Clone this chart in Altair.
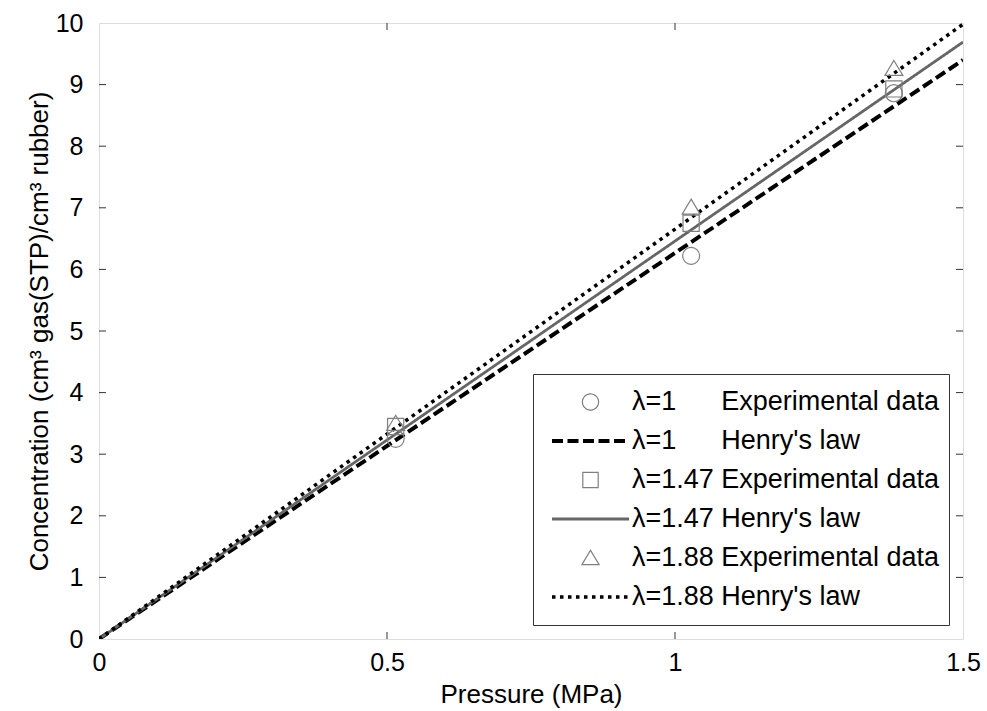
import altair as alt
import pandas as pd

FONT = "Liberation Sans"
NB = "\u00a0"

# ---- data ----
series = [
    "λ=1" + NB * 6 + "Experimental" + NB + "data",
    "λ=1" + NB * 6 + "Henry's" + NB + "law",
    "λ=1.47" + NB + "Experimental" + NB + "data",
    "λ=1.47" + NB + "Henry's" + NB + "law",
    "λ=1.88" + NB + "Experimental" + NB + "data",
    "λ=1.88" + NB + "Henry's" + NB + "law",
]

exp_pressure = [0.515, 1.028, 1.38]
exp_l100 = [3.25, 6.22, 8.86]
exp_l147 = [3.45, 6.75, 8.93]
exp_l188 = [3.50, 7.01, 9.26]

henry_pressure = [0.0, 1.5]
henry_l100 = [0.0, 9.40]
henry_l147 = [0.0, 9.69]
henry_l188 = [0.0, 9.98]

x_ticks = [0, 0.5, 1, 1.5]
y_ticks = [0, 1, 2, 3, 4, 5, 6, 7, 8, 9, 10]

# ---- tables ----
exp_df = pd.DataFrame({
    "pressure": exp_pressure * 3,
    "conc": exp_l100 + exp_l147 + exp_l188,
    "series": [series[0]] * 3 + [series[2]] * 3 + [series[4]] * 3,
})
henry_df = pd.DataFrame({
    "pressure": henry_pressure * 3,
    "conc": henry_l100 + henry_l147 + henry_l188,
    "series": [series[1]] * 2 + [series[3]] * 2 + [series[5]] * 2,
})
xt_df = pd.DataFrame({"pressure": x_ticks[1:-1]})
yt_df = pd.DataFrame({"conc": y_ticks[1:-1]})

W, H = 864, 616

# ---- styles ----
CIRCLE = "M0.21,0A0.21,0.21,0,1,1,-0.21,0A0.21,0.21,0,1,1,0.21,0Z"
SQUARE = "M-0.2,-0.2L0.2,-0.2L0.2,0.2L-0.2,0.2Z"
TRIANGLE = "M0,-0.2L0.222,0.17L-0.222,0.17Z"
LINE = "M-1,0L1,0"

shape_scale = alt.Scale(domain=series, range=[CIRCLE, LINE, SQUARE, LINE, TRIANGLE, LINE])
stroke_scale = alt.Scale(domain=series, range=["#7f7f7f", "#000000", "#7f7f7f", "#666666", "#7f7f7f", "#000000"])
dash_scale = alt.Scale(domain=series, range=[[1, 0], [11, 4.5], [1, 0], [1, 0], [1, 0], [3.5, 4.5]])
width_scale = alt.Scale(type="ordinal", domain=series, range=[1.2, 4, 1.2, 2.8, 1.2, 3.5])

legend = alt.Legend(
    title=None,
    orient="none",
    legendX=434,
    legendY=351,
    strokeColor="#333333",
    fillColor="white",
    padding=10,
    cornerRadius=0,
    labelFont=FONT,
    labelFontSize=27,
    labelColor="black",
    labelLimit=600,
    labelOffset=1,
    symbolSize=5929,
    symbolFillColor="transparent",
    symbolOpacity=1,
    clipHeight=36,
    rowPadding=3,
    symbolOffset=7,
)

x_scale = alt.Scale(domain=[0, 1.5], nice=False, zero=False)
y_scale = alt.Scale(domain=[0, 10], nice=False, zero=False)

x_axis = alt.Axis(
    values=x_ticks, format="~g", title="Pressure (MPa)", ticks=False, domain=False,
    grid=False, labelFlush=False, labelOverlap=False, labelFont=FONT, labelFontSize=25,
    labelColor="black", labelPadding=11, titleFont=FONT, titleFontSize=26,
    titleFontWeight="normal", titleColor="black", titlePadding=6,
)
y_axis = alt.Axis(
    values=y_ticks, format="d", title="Concentration (cm³ gas(STP)/cm³ rubber)",
    ticks=False, domain=False, grid=False, labelFlush=False, labelOverlap=False,
    labelFont=FONT, labelFontSize=25, labelColor="black", labelPadding=16,
    titleFont=FONT, titleFontSize=26, titleFontWeight="normal", titleColor="black",
    titlePadding=3,
)

X = alt.X("pressure:Q", scale=x_scale, axis=x_axis)
Y = alt.Y("conc:Q", scale=y_scale, axis=y_axis)

lines = alt.Chart(henry_df).mark_line(clip=True).encode(
    x=X, y=Y,
    stroke=alt.Stroke("series:N", scale=stroke_scale, legend=legend),
    strokeDash=alt.StrokeDash("series:N", scale=dash_scale, legend=legend),
    strokeWidth=alt.StrokeWidth("series:N", scale=width_scale, legend=legend),
)

points = alt.Chart(exp_df).mark_point(filled=False, size=6560, opacity=1).encode(
    x=X, y=Y,
    shape=alt.Shape("series:N", scale=shape_scale, legend=legend),
    stroke=alt.Stroke("series:N", scale=stroke_scale, legend=legend),
    strokeWidth=alt.StrokeWidth("series:N", scale=width_scale, legend=legend),
)

tick_color = "#333333"
xt_bottom = alt.Chart(xt_df).mark_rule(color=tick_color).encode(
    x=alt.X("pressure:Q", scale=x_scale, axis=x_axis), y=alt.value(H), y2=alt.value(H - 7))
xt_top = alt.Chart(xt_df).mark_rule(color=tick_color).encode(
    x=alt.X("pressure:Q", scale=x_scale, axis=x_axis), y=alt.value(0), y2=alt.value(7))
yt_left = alt.Chart(yt_df).mark_rule(color=tick_color).encode(
    y=alt.Y("conc:Q", scale=y_scale, axis=y_axis), x=alt.value(0), x2=alt.value(7))
yt_right = alt.Chart(yt_df).mark_rule(color=tick_color).encode(
    y=alt.Y("conc:Q", scale=y_scale, axis=y_axis), x=alt.value(W), x2=alt.value(W - 7))

chart = alt.layer(xt_bottom, xt_top, yt_left, yt_right, lines, points).properties(
    width=W,
    height=H,
    autosize=alt.AutoSizeParams(type="none"),
    padding={"left": 99, "top": 23, "right": 24, "bottom": 72},
    background="white",
).configure_view(stroke="#333333", strokeWidth=1).configure(font=FONT)

chart.save("out.html", embed_options={"renderer": "svg", "actions": False})
